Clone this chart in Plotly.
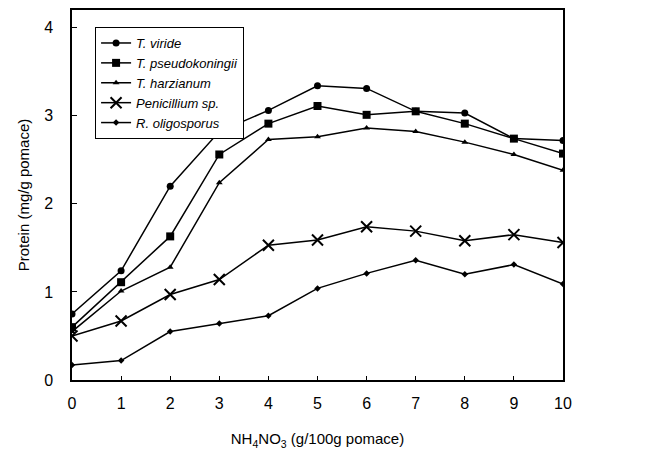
import plotly.graph_objects as go

x_vals = [0, 1, 2, 3, 4, 5, 6, 7, 8, 9, 10]
t_viride = [0.75, 1.24, 2.20, 2.82, 3.06, 3.34, 3.31, 3.05, 3.03, 2.74, 2.72]
t_pseudokoningii = [0.60, 1.11, 1.63, 2.56, 2.91, 3.11, 3.01, 3.05, 2.91, 2.74, 2.57]
t_harzianum = [0.55, 1.01, 1.28, 2.24, 2.73, 2.76, 2.86, 2.82, 2.70, 2.56, 2.38]
penicillium = [0.50, 0.67, 0.97, 1.14, 1.53, 1.59, 1.74, 1.69, 1.58, 1.65, 1.56]
r_oligosporus = [0.17, 0.22, 0.55, 0.64, 0.73, 1.04, 1.21, 1.36, 1.20, 1.31, 1.09]

series = [
    ("T. viride", t_viride, "circle", 7),
    ("T. pseudokoningii", t_pseudokoningii, "square", 8),
    ("T. harzianum", t_harzianum, "triangle-up", 6),
    ("Penicillium sp.", penicillium, "x-thin", 11),
    ("R. oligosporus", r_oligosporus, "diamond", 5),
]

fig = go.Figure()
for name, vals, sym, size in series:
    marker = dict(symbol=sym, size=size, color="black")
    if sym == "x-thin":
        marker["line"] = dict(width=2, color="black")
    fig.add_trace(go.Scatter(
        x=x_vals, y=vals, mode="lines+markers", name=f"<i>{name}</i>",
        line=dict(color="black", width=1.5), marker=marker,
    ))

fig.update_layout(
    width=658, height=468,
    margin=dict(l=64, r=103, t=2, b=96),
    paper_bgcolor="white", plot_bgcolor="white",
    font=dict(family="Liberation Sans, Arial, sans-serif", size=15, color="black"),
    showlegend=True,
    legend=dict(
        x=0.047, y=0.954, xanchor="left", yanchor="top",
        bordercolor="black", borderwidth=1, bgcolor="white",
        font=dict(size=13), tracegroupgap=0,
    ),
    xaxis=dict(
        range=[0, 10], tickmode="array", tickvals=x_vals, automargin=False,
        showgrid=False, zeroline=False, showline=True, linecolor="black",
        linewidth=1.5, mirror=True, ticks="inside", ticklen=4,
        tickcolor="black", ticklabelstandoff=8, tickfont=dict(size=16),
        title=dict(text="NH<sub>4</sub>NO<sub>3</sub> (g/100g pomace)", standoff=23,
                   font=dict(size=15)),
    ),
    yaxis=dict(
        range=[0, 4.2], tickvals=[0, 1, 2, 3, 4], automargin=False,
        showgrid=False, zeroline=False, showline=True, linecolor="black",
        linewidth=1.5, mirror=True, ticks="inside", ticklen=5,
        tickcolor="black", ticklabelstandoff=14, tickfont=dict(size=16),
        title=dict(text="Protein (mg/g pomace)", standoff=11, font=dict(size=15)),
    ),
)

fig.write_html("out.html")
